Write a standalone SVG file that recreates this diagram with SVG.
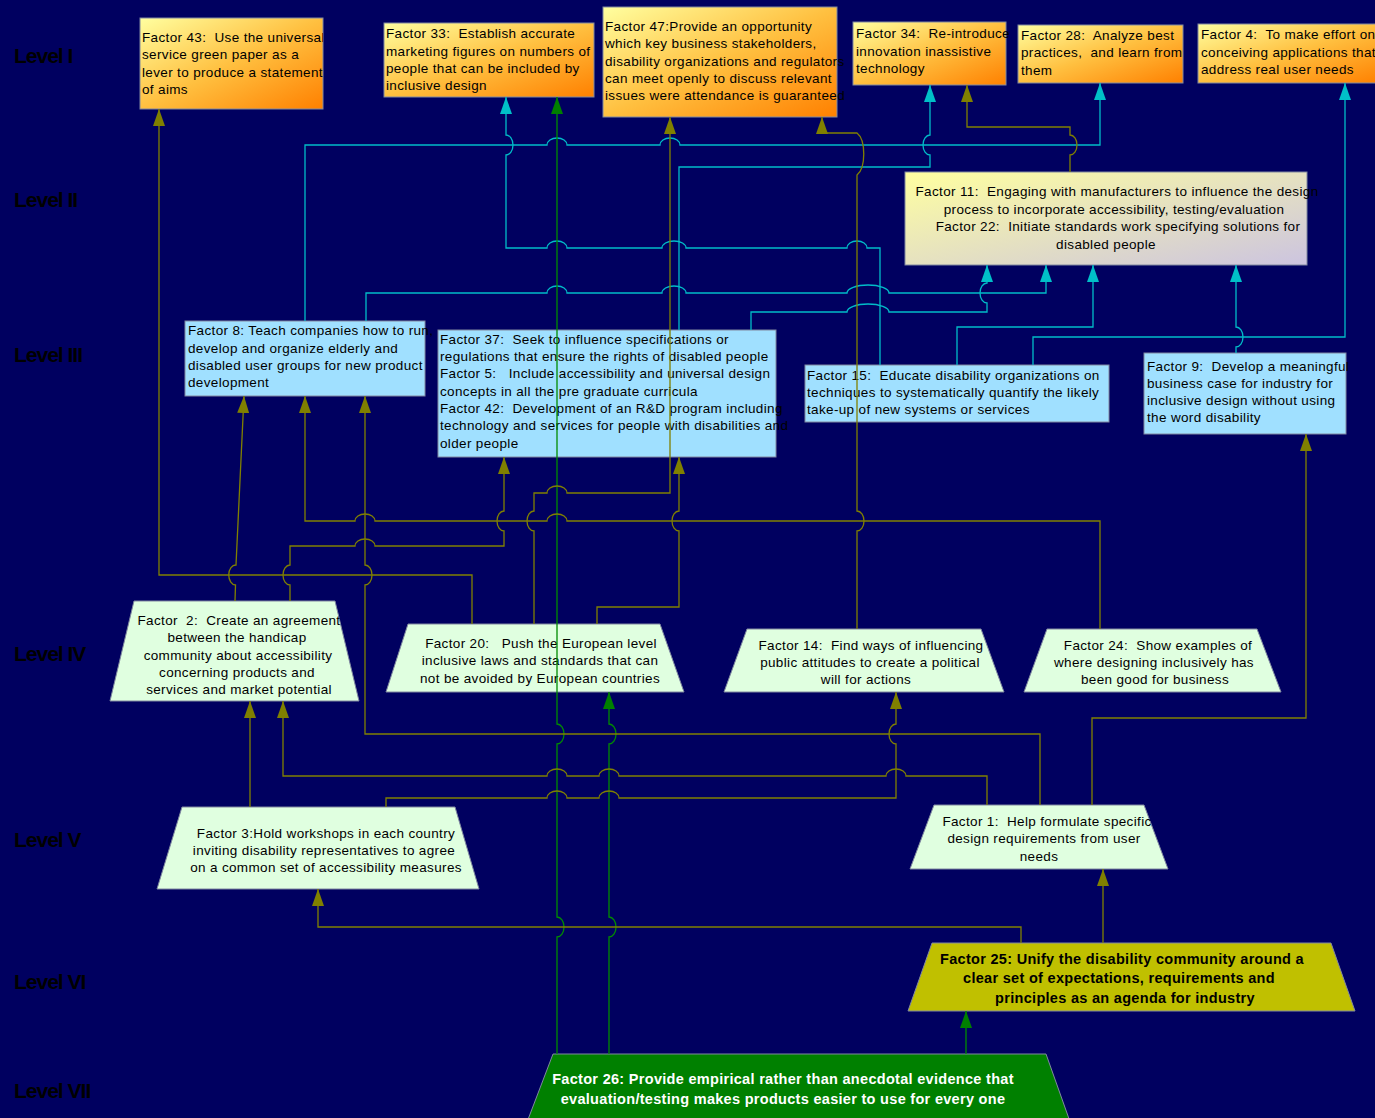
<svg xmlns="http://www.w3.org/2000/svg" width="1375" height="1118" viewBox="0 0 1375 1118">
<defs>
<linearGradient id="gOr" x1="0" y1="0" x2="1" y2="1"><stop offset="0" stop-color="#ffffa0"/><stop offset="0.5" stop-color="#ffc040"/><stop offset="1" stop-color="#ff8000"/></linearGradient>
<linearGradient id="gLav" x1="0" y1="0" x2="1" y2="1"><stop offset="0" stop-color="#ffffa0"/><stop offset="1" stop-color="#ccc4e0"/></linearGradient>
<marker id="ao" markerUnits="userSpaceOnUse" markerWidth="17" markerHeight="12" refX="17" refY="6" orient="auto" viewBox="0 0 17 12"><path d="M0,0L17,6L0,12z" fill="#808000"/></marker>
<marker id="ac" markerUnits="userSpaceOnUse" markerWidth="17" markerHeight="12" refX="17" refY="6" orient="auto" viewBox="0 0 17 12"><path d="M0,0L17,6L0,12z" fill="#00c0c8"/></marker>
<marker id="ag" markerUnits="userSpaceOnUse" markerWidth="17" markerHeight="12" refX="17" refY="6" orient="auto" viewBox="0 0 17 12"><path d="M0,0L17,6L0,12z" fill="#008000"/></marker>
<clipPath id="cF43"><rect x="140" y="18" width="183" height="91"/></clipPath>
</defs>
<style>
.lv{font-family:"Liberation Sans",Arial,sans-serif;font-weight:bold;font-size:21px;fill:#000;letter-spacing:-1px}
.t{font-family:"Liberation Sans",Arial,sans-serif;font-size:13.5px;letter-spacing:0.35px;fill:#000;white-space:pre}
.m{text-anchor:middle}
.b{font-weight:bold;font-size:14.5px;letter-spacing:0.3px}
.w{fill:#fff}
.box{stroke:#8088a0;stroke-width:1}
.o1{fill:url(#gOr)}
.l2{fill:url(#gLav)}
.l3{fill:#a0e0ff}
.l4{fill:#e0ffe0}
.cy{stroke:#00bcc8;fill:none;stroke-width:1.3;marker-end:url(#ac)}
.ol{stroke:#808000;fill:none;stroke-width:1.3;marker-end:url(#ao)}
.gr{stroke:#008c00;fill:none;stroke-width:1.3;marker-end:url(#ag)}
</style>
<rect x="0" y="0" width="1375" height="1118" fill="#000060"/>
<g id="levels">
<text class="lv" x="14" y="63">Level I</text>
<text class="lv" x="14" y="207">Level II</text>
<text class="lv" x="14" y="362">Level III</text>
<text class="lv" x="14" y="661">Level IV</text>
<text class="lv" x="14" y="847">Level V</text>
<text class="lv" x="14" y="989">Level VI</text>
<text class="lv" x="14" y="1098">Level VII</text>
</g>
<g id="F43"><rect class="box o1" x="140" y="18" width="183" height="91"/>
<g clip-path="url(#cF43)"><text class="t" x="142" y="42">Factor 43:  Use the universal</text><text class="t" x="142" y="59">service green paper as a</text><text class="t" x="142" y="77">lever to produce a statement</text><text class="t" x="142" y="94">of aims</text></g></g>
<g id="F33"><rect class="box o1" x="384" y="23" width="210" height="74"/>
<text class="t" x="386" y="38">Factor 33:  Establish accurate</text><text class="t" x="386" y="55.5">marketing figures on numbers of</text><text class="t" x="386" y="73">people that can be included by</text><text class="t" x="386" y="90">inclusive design</text></g>
<g id="F47"><rect class="box o1" x="603" y="7" width="234" height="110"/>
<text class="t" x="605" y="31">Factor 47:Provide an opportunity</text><text class="t" x="605" y="48">which key business stakeholders,</text><text class="t" x="605" y="66">disability organizations and regulators</text><text class="t" x="605" y="83">can meet openly to discuss relevant</text><text class="t" x="605" y="100">issues were attendance is guaranteed</text></g>
<g id="F34"><rect class="box o1" x="853" y="22" width="153" height="63"/>
<text class="t" x="856" y="37.5">Factor 34:  Re-introduce</text><text class="t" x="856" y="55.5">innovation inassistive</text><text class="t" x="856" y="72.5">technology</text></g>
<g id="F28"><rect class="box o1" x="1018" y="25" width="165" height="58"/>
<text class="t" x="1021" y="39.5">Factor 28:  Analyze best</text><text class="t" x="1021" y="56.5">practices,  and learn from</text><text class="t" x="1021" y="74.5">them</text></g>
<g id="F4"><rect class="box o1" x="1198" y="24" width="182" height="59"/>
<text class="t" x="1201" y="38.5">Factor 4:  To make effort on</text><text class="t" x="1201" y="56.5">conceiving applications that</text><text class="t" x="1201" y="73.5">address real user needs</text></g>
<g id="F11"><rect class="box l2" x="905" y="172" width="402" height="93"/>
<text class="t m" x="1117" y="195.5">Factor 11:  Engaging with manufacturers to influence the design</text><text class="t m" x="1114" y="213.5">process to incorporate accessibility, testing/evaluation</text><text class="t m" x="1118" y="231">Factor 22:  Initiate standards work specifying solutions for</text><text class="t m" x="1106" y="248.5">disabled people</text></g>
<g id="F8"><rect class="box l3" x="185" y="321" width="240" height="75"/>
<text class="t" x="188" y="335">Factor 8: Teach companies how to run,</text><text class="t" x="188" y="352.5">develop and organize elderly and</text><text class="t" x="188" y="370">disabled user groups for new product</text><text class="t" x="188" y="387">development</text></g>
<g id="F37"><rect class="box l3" x="438" y="330" width="338" height="127"/>
<text class="t" x="440" y="343.5">Factor 37:  Seek to influence specifications or</text><text class="t" x="440" y="361">regulations that ensure the rights of disabled people</text><text class="t" x="440" y="378.2">Factor 5:   Include accessibility and universal design</text><text class="t" x="440" y="395.5">concepts in all the pre graduate curricula</text><text class="t" x="440" y="413">Factor 42:  Development of an R&amp;D program including</text><text class="t" x="440" y="430.2">technology and services for people with disabilities and</text><text class="t" x="440" y="447.6">older people</text></g>
<g id="F15"><rect class="box l3" x="805" y="365" width="304" height="57"/>
<text class="t" x="807" y="379.5">Factor 15:  Educate disability organizations on</text><text class="t" x="807" y="396.5">techniques to systematically quantify the likely</text><text class="t" x="807" y="413.5">take-up of new systems or services</text></g>
<g id="F9"><rect class="box l3" x="1144" y="353" width="202" height="81"/>
<text class="t" x="1147" y="370.5">Factor 9:  Develop a meaningful</text><text class="t" x="1147" y="388">business case for industry for</text><text class="t" x="1147" y="405">inclusive design without using</text><text class="t" x="1147" y="422.3">the word disability</text></g>
<g id="F2"><polygon class="box l4" points="134,601 335,601 359,701 110,701"/>
<text class="t m" x="239" y="625">Factor  2:  Create an agreement</text><text class="t m" x="237" y="642.3">between the handicap</text><text class="t m" x="238" y="659.6">community about accessibility</text><text class="t m" x="237" y="676.9">concerning products and</text><text class="t m" x="239" y="694">services and market potential</text></g>
<g id="F20"><polygon class="box l4" points="408,624 660,624 684,692 386,692"/>
<text class="t m" x="541" y="647.5">Factor 20:   Push the European level</text><text class="t m" x="540" y="665">inclusive laws and standards that can</text><text class="t m" x="540" y="682.5">not be avoided by European countries</text></g>
<g id="F14"><polygon class="box l4" points="747,629 981,629 1004,692 724,692"/>
<text class="t m" x="871" y="649.5">Factor 14:  Find ways of influencing</text><text class="t m" x="870" y="666.5">public attitudes to create a political</text><text class="t m" x="866" y="684">will for actions</text></g>
<g id="F24"><polygon class="box l4" points="1047,629 1257,629 1281,692 1024,692"/>
<text class="t m" x="1158" y="649.5">Factor 24:  Show examples of</text><text class="t m" x="1154" y="666.5">where designing inclusively has</text><text class="t m" x="1155" y="684">been good for business</text></g>
<g id="F3"><polygon class="box l4" points="182,807 455,807 479,889 157,889"/>
<text class="t m" x="326" y="837.5">Factor 3:Hold workshops in each country</text><text class="t m" x="324" y="854.5">inviting disability representatives to agree</text><text class="t m" x="326" y="871.5">on a common set of accessibility measures</text></g>
<g id="F1"><polygon class="box l4" points="934,805 1144,805 1168,869 910,869"/>
<text class="t m" x="1047" y="826">Factor 1:  Help formulate specific</text><text class="t m" x="1044" y="843">design requirements from user</text><text class="t m" x="1039" y="860.5">needs</text></g>
<g id="F25"><polygon class="box" fill="#c0c000" points="932,943 1331,943 1355,1011 908,1011"/>
<text class="t m b" x="1122" y="964">Factor 25: Unify the disability community around a</text><text class="t m b" x="1119" y="983">clear set of expectations, requirements and</text><text class="t m b" x="1125" y="1003">principles as an agenda for industry</text></g>
<g id="F26"><polygon class="box" fill="#008000" points="553,1054 1046,1054 1073,1130 524,1130"/>
<text class="t m b w" x="783" y="1084">Factor 26: Provide empirical rather than anecdotal evidence that</text><text class="t m b w" x="783" y="1104">evaluation/testing makes products easier to use for every one</text></g>
<g id="connectors">
<path class="cy" d="M880,365 V248 H867 A10,7 0 0 0 847,248 H686 A12,7 0 0 0 662,248 H567 A10,7 0 0 0 547,248 H506 V155 A7,10 0 0 0 506,135 V97"/>
<path class="cy" d="M305,321 V145 H547 A10,7 0 0 1 567,145 H660 A10,7 0 0 1 680,145 H1100 V83"/>
<path class="cy" d="M366,321 V293 H547 A10,7 0 0 1 567,293 H662 A12,7 0 0 1 686,293 H847 A21,8 0 0 1 889,293 H1046 V265"/>
<path class="cy" d="M751,330 V312 H847 A21,8 0 0 1 889,312 H987 V303 A7,10 0 0 1 987,283 V265"/>
<path class="cy" d="M679,330 V167 H930 V155 A7,10 0 0 1 930,135 V85"/>
<path class="cy" d="M957,365 V327 H1093 V265"/>
<path class="cy" d="M1033,365 V337 H1345 V83"/>
<path class="cy" d="M1236,353 V347 A7,10 0 0 0 1236,327 V265"/>
<path class="gr" d="M557,1054 V937 A7,10 0 0 0 557,917 V744 A7,10 0 0 0 557,724 V97"/>
<path class="gr" d="M609,1054 V937 A7,10 0 0 0 609,917 V744 A7,10 0 0 0 609,724 V692"/>
<path class="gr" d="M966,1054 V1011"/>
<path class="ol" d="M1021,943 V927 H318 V889"/>
<path class="ol" d="M1103,943 V869"/>
<path class="ol" d="M250,807 V701"/>
<path class="ol" d="M386,807 V798 H547 A10,7 0 0 1 567,798 H599 A10,7 0 0 1 619,798 H896 V744 A7,10 0 0 1 896,724 V692"/>
<path class="ol" d="M987,805 V776 H906 A10,7 0 0 0 886,776 H619 A10,7 0 0 0 599,776 H567 A10,7 0 0 0 547,776 H283 V701"/>
<path class="ol" d="M1040,805 V734 H365 V585 A7,10 0 0 0 365,565 V396"/>
<path class="ol" d="M1092,805 V718 H1306 V434"/>
<path class="ol" d="M235,601 L235.5,585 A7,10 0 0 1 236,565 L244,396"/>
<path class="ol" d="M290,601 V585 A7,10 0 0 1 290,565 V546 H355 A10,7 0 0 1 375,546 H504 V531 A7,10 0 0 1 504,511 V457"/>
<path class="ol" d="M472,624 V575 H159 V109"/>
<path class="ol" d="M534,624 V531 A7,10 0 0 1 534,511 V493 H547 A10,7 0 0 1 567,493 H670 V117"/>
<path class="ol" d="M597,624 V607 H679 V531 A7,10 0 0 1 679,511 V457"/>
<path class="ol" d="M857,629 V531 A7,10 0 0 0 857,511 V175 C866,168 866,140 857,133 H822 V117"/>
<path class="ol" d="M1070,172 V155 A7,10 0 0 0 1070,135 V127 H967 V85"/>
<path class="ol" d="M1100,629 V521 H567 A10,7 0 0 0 547,521 H375 A10,7 0 0 0 355,521 H305 V396"/>
</g>
</svg>
